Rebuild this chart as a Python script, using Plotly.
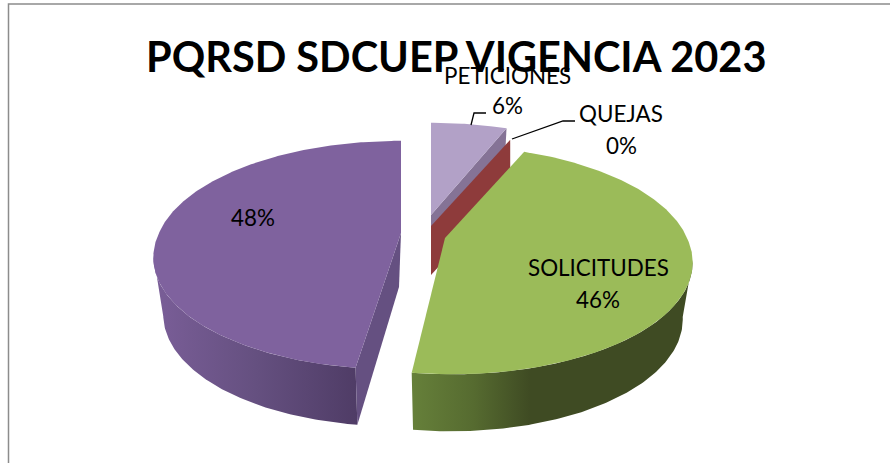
import math
import plotly.graph_objects as go

# Data
categories = ["PETICIONES", "QUEJAS", "SOLICITUDES", ""]
values = [6.0, 0.3, 45.8, 47.9]
title_text = "PQRSD SDCUEP VIGENCIA 2023"

# Style
TOP = {"PETICIONES": "#b2a1c7", "QUEJAS": "#8e3b3b", "SOLICITUDES": "#9bbb59", "": "#7f629e"}
AX, AY, K = 242.0, 110.0, 0.193     # projected circle
DEPTH, BSCALE = 57.0, 0.96           # extrusion
APEX = {"PETICIONES": (431, 215), "QUEJAS": (431, 226), "SOLICITUDES": (445, 238), "": (401, 233)}
SKEW = {"PETICIONES": 0, "QUEJAS": 0, "SOLICITUDES": 0.045, "": -0.045}
FONT = "Lato"
EXTREME = math.degrees(math.acos(-K))   # angle of the widest point of the projected circle


def project(name, deg, bottom=False):
    cx, cy = APEX[name]
    t = math.radians(deg)
    w = 1 + K * math.cos(t)
    dx = AX * math.sin(t) / w
    dy = -AY * math.cos(t) / w
    dx += SKEW[name] * max(0, dy)
    if bottom:
        return cx + dx * BSCALE, cy + dy + DEPTH
    return cx + dx, cy + dy


def arc(name, a0, a1, bottom=False):
    n = max(2, int(abs(a1 - a0) * 1.5))
    return [project(name, a0 + (a1 - a0) * i / n, bottom) for i in range(n + 1)]


def poly(pts, color=None, gradient=None):
    xs = [p[0] for p in pts] + [pts[0][0]]
    ys = [p[1] for p in pts] + [pts[0][1]]
    kw = {"fillgradient": gradient} if gradient else {"fillcolor": color}
    return go.Scatter(x=xs, y=ys, mode="lines", fill="toself", line=dict(width=0),
                      hoverinfo="skip", showlegend=False, **kw)


total = sum(values)
spans = {}
acc = 0.0
for c, v in zip(categories, values):
    spans[c] = (acc, acc + v / total * 360)
    acc += v / total * 360

fig = go.Figure()

# purple slice
a0, a1 = spans[""]
ax_, ay_ = APEX[""]
fig.add_trace(poly(arc("", a0, 360 - EXTREME) + arc("", 360 - EXTREME, a0, True),
                   gradient=dict(type="horizontal", colorscale=[[0, "#7a5e98"], [0.5, "#655080"], [1, "#4f3c66"]])))
fig.add_trace(poly([(ax_, ay_), project("", a0), project("", a0, True), (ax_ - 2, ay_ + 54)], color="#655081"))
fig.add_trace(poly([(ax_, ay_)] + arc("", a0, a1), color=TOP[""]))

# lavender slice with thin wall
a0, a1 = spans["PETICIONES"]
lx, ly = APEX["PETICIONES"]
fig.add_trace(poly([(lx, ly), project("PETICIONES", a1), project("PETICIONES", a1, True), (lx, ly + DEPTH)], color="#857396"))
fig.add_trace(poly([(lx, ly)] + arc("PETICIONES", a0, a1), color=TOP["PETICIONES"]))

# red sliver wall
a0, a1 = spans["QUEJAS"]
rx, ry = APEX["QUEJAS"]
fig.add_trace(poly([(rx, ry), project("QUEJAS", a1), (project("QUEJAS", a1)[0], project("QUEJAS", a1)[1] + DEPTH - 8), (rx, ry + DEPTH - 8)], color=TOP["QUEJAS"]))

# green slice
a0, a1 = spans["SOLICITUDES"]
gx, gy = APEX["SOLICITUDES"]
fig.add_trace(poly(arc("SOLICITUDES", EXTREME, a1) + arc("SOLICITUDES", a1, EXTREME, True),
                   gradient=dict(type="horizontal", colorscale=[[0, "#66803a"], [0.22, "#566b30"], [0.42, "#3f4b23"], [1, "#3f4b23"]])))
fig.add_trace(poly([(gx, gy)] + arc("SOLICITUDES", a0, a1), color=TOP["SOLICITUDES"]))

# leader lines
for lx_, ly_ in [([471, 474, 486], [125, 113, 113]), ([512, 563, 575], [139, 121, 121])]:
    fig.add_trace(go.Scatter(x=lx_, y=ly_, mode="lines", line=dict(color="black", width=1.3),
                             hoverinfo="skip", showlegend=False))


def pct(v):
    return f"{round(v / total * 100)}%"


name_pos = {"PETICIONES": (507, 75), "QUEJAS": (621, 113.5), "SOLICITUDES": (598, 267)}
pct_pos = {"PETICIONES": (507, 105.5), "QUEJAS": (621, 145), "SOLICITUDES": (598, 299), "": (253, 217.5)}
annotations = [dict(x=456, y=56, text=f"<b>{title_text}</b>", showarrow=False, xref="x", yref="y",
                    font=dict(family=FONT, size=41.5, color="black"))]
for c, v in zip(categories, values):
    if c:
        x, y = name_pos[c]
        annotations.append(dict(x=x, y=y, text=c, showarrow=False, xref="x", yref="y",
                                font=dict(family=FONT, size=22.4, color="black")))
    x, y = pct_pos[c]
    annotations.append(dict(x=x, y=y, text=pct(v), showarrow=False, xref="x", yref="y",
                            font=dict(family=FONT, size=22.4, color="black")))

fig.update_layout(
    width=890, height=463, autosize=False,
    margin=dict(l=0, r=0, t=0, b=0),
    paper_bgcolor="white", plot_bgcolor="white",
    xaxis=dict(range=[0, 890], visible=False, fixedrange=True),
    yaxis=dict(range=[463, 0], visible=False, fixedrange=True),
    annotations=annotations,
    shapes=[dict(type="rect", xref="x", yref="y", x0=8.5, y0=4, x1=900, y1=480,
                 line=dict(color="#8c8c8c", width=1.5))],
)
fig.write_html("out.html", config={"displayModeBar": False},
               post_script="document.body.style.margin='0';document.documentElement.style.overflow='hidden';")
